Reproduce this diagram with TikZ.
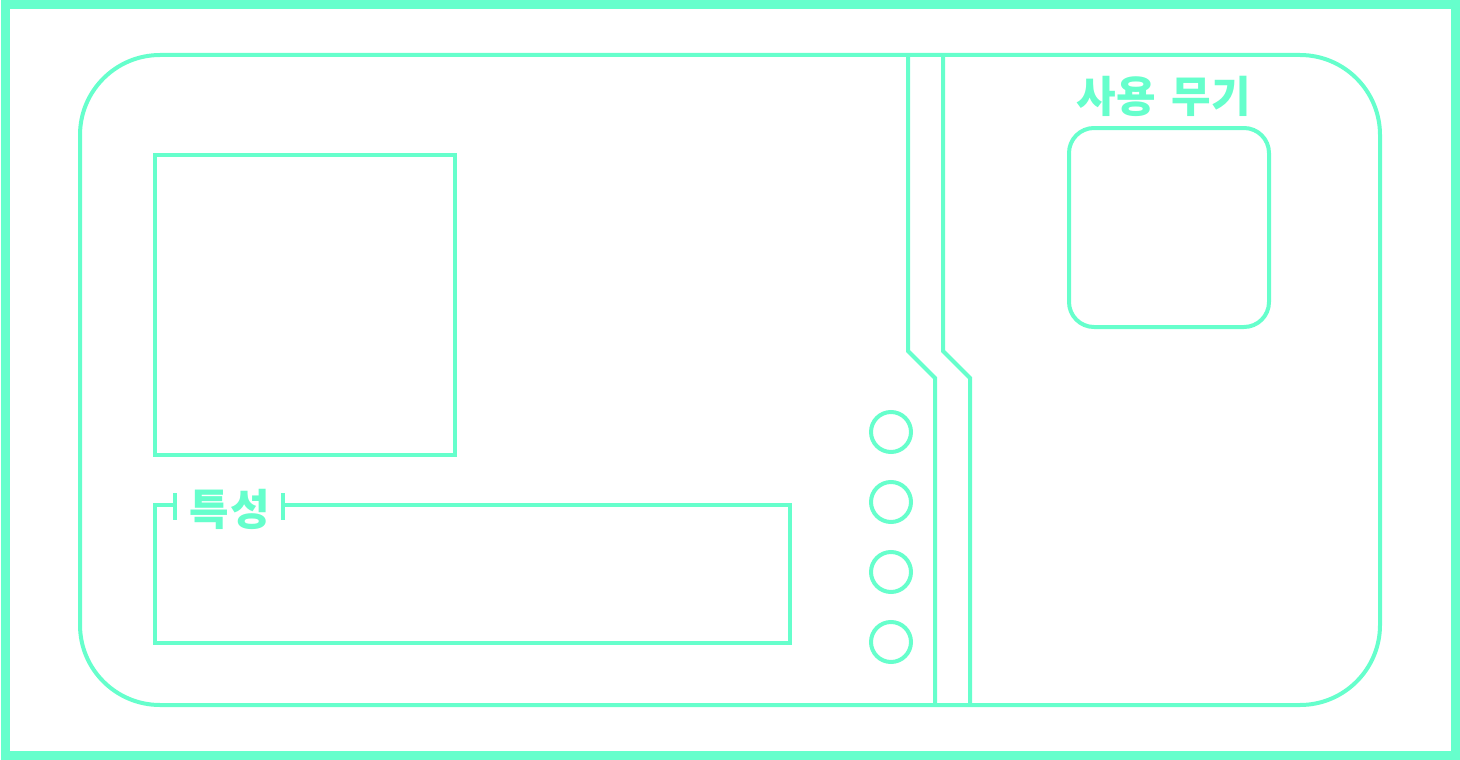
\documentclass[tikz,border=0pt]{standalone}
\usepackage{fontspec}
\newfontfamily\kr{Noto Sans CJK KR}
\definecolor{mint}{RGB}{102,255,204}
\begin{document}
\begin{tikzpicture}[x=1pt,y=-1pt,
  line/.style={draw=mint,line width=4pt},
  lbl/.style={text=mint,font=\kr\bfseries\fontsize{43}{46}\selectfont,inner sep=0pt}]
\useasboundingbox (0,0) rectangle (1460,760);
\draw[draw=mint,line width=9pt] (5,5) rectangle (1455,755);
\draw[line,rounded corners=80pt] (80,55) rectangle (1380,705);
% portrait square
\draw[line] (155,155) rectangle (455,455);
% traits box with legend
\coordinate (tl) at (155,505);
\draw[line] (175,505) -- (tl) -- (155,643) -- (790,643) -- (790,505) -- (283,505);
\draw[line] (175,493) -- (175,520);
\draw[line] (283,493) -- (283,520);
\node[lbl] (traits) at (230,509) {특\kern2pt성};
% weapon box
\node[lbl] (wlabel) at (1164,96) {사용\ \hspace{6pt}무기};
\draw[line,rounded corners=25pt] (1069,128) rectangle (1269,327);
% double divider
\draw[line] (908,55) -- (908,351) -- (935,378) -- (935,705);
\draw[line] (943,55) -- (943,351) -- (970,378) -- (970,705);
% circles
\foreach \y/\n in {432/c1,502/c2,572/c3,642/c4}
  \draw[line] (891,\y) circle[radius=20];
\end{tikzpicture}
\end{document}
